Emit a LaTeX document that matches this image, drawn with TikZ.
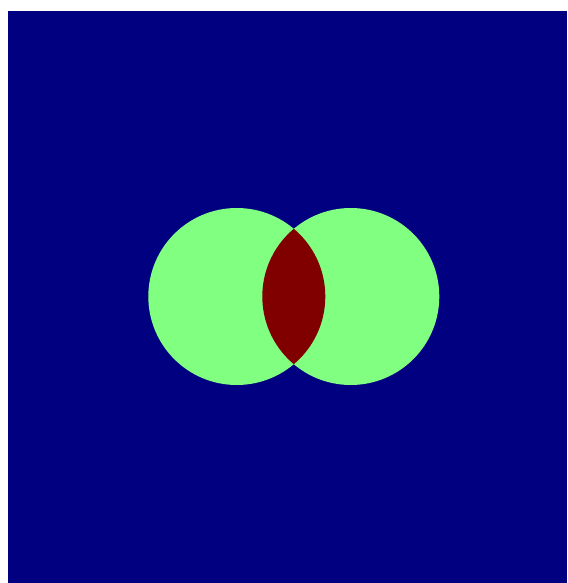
\documentclass[tikz,border=0pt]{standalone}
\usepackage{xcolor}
\definecolor{jetlow}{HTML}{000080}
\definecolor{jetmid}{HTML}{80FF80}
\definecolor{jethigh}{HTML}{800000}

\begin{document}
\begin{tikzpicture}[x=1pt, y=-1pt]
  % --- cornice e fondo (unità = pixel) ---
  \useasboundingbox (0,0) rectangle (567,583);
  \fill[white] (0,0) rectangle (567,583);
  \fill[jetlow] (8,11) rectangle (567,583);

  % --- i due cerchi ---
  \foreach \cx in {236.8,350.8}
    \fill[jetmid] (\cx,296.5) circle (88.5);

  % --- intersezione ---
  \begin{scope}
    \clip (236.8,296.5) circle (88.5);
    \fill[jethigh] (350.8,296.5) circle (88.5);
  \end{scope}
\end{tikzpicture}
\end{document}
